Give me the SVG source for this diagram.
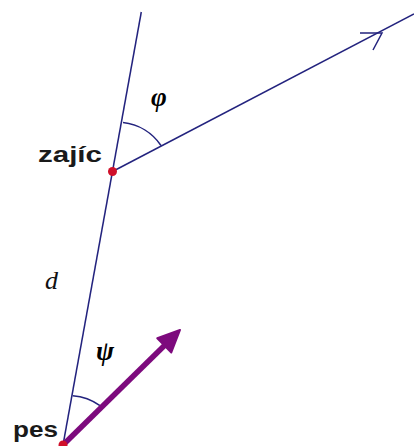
<svg xmlns="http://www.w3.org/2000/svg" width="414" height="446" viewBox="0 0 414 446">
<style>
.ln{stroke:#23237e;stroke-width:1.5;fill:none}
.lbl{font-family:"Liberation Sans",Arial,sans-serif;font-weight:bold;font-size:22px;fill:#1a1a1a}
.gr{font-family:"Liberation Serif","Times New Roman",serif;font-weight:bold;font-style:italic;font-size:27px;fill:#000}
</style>
<rect width="414" height="446" fill="#fff"/>
<g id="connectors">
<line class="ln" x1="63" y1="445" x2="141.3" y2="12"/>
<line class="ln" x1="112.5" y1="171.5" x2="414" y2="14"/>
<path class="ln" d="M360,33 L382,33 L373,50"/>
<path class="ln" d="M123,122.5 A53,53 0 0 1 161,145.5"/>
<path class="ln" d="M72.7,395.7 A51,51 0 0 1 100,405.7"/>
<line x1="63" y1="445" x2="166" y2="344" stroke="#7d0a7d" stroke-width="5.5"/>
<polygon points="180,330 157.3,338.3 171.3,352.5" fill="#7d0a7d" stroke="#7d0a7d" stroke-width="2" stroke-linejoin="round"/>
</g>
<g id="zajic">
<circle cx="112.5" cy="171.5" r="4.5" fill="#d0102a"/>
<text class="lbl" x="38" y="162" textLength="64" lengthAdjust="spacingAndGlyphs">zajíc</text>
</g>
<g id="pes">
<circle cx="63" cy="445" r="4.5" fill="#d0102a"/>
<text class="lbl" x="13" y="437" textLength="45" lengthAdjust="spacingAndGlyphs">pes</text>
</g>
<g id="labels">
<text class="gr" x="151" y="106">φ</text>
<text class="gr" x="96" y="360">ψ</text>
<text x="45" y="289" font-family="'Liberation Serif','Times New Roman',serif" font-style="italic" font-size="26" fill="#111">d</text>
</g>
</svg>
